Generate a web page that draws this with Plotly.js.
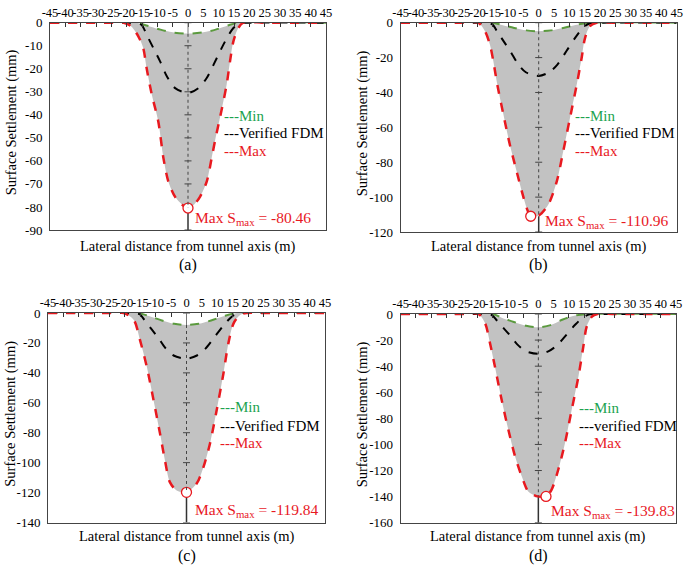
<!DOCTYPE html>
<html><head><meta charset="utf-8">
<script src="https://cdn.plot.ly/plotly-3.0.1.min.js"></script>
<style>html,body{margin:0;padding:0;background:#fff}#chart{width:685px;height:566px}</style>
</head><body><div id="chart"></div>
<script>
// ---------- data ----------
const xTickVals = [-45,-40,-35,-30,-25,-20,-15,-10,-5,0,5,10,15,20,25,30,35,40,45];
const panelLabels = ['(a)','(b)','(c)','(d)'];
const fdmLabels = ['---Verified FDM','---Verified FDM','---Verified FDM','---verified FDM'];
const yRanges = [[-90,0],[-120,0],[-140,0],[-160,0]];
const yTicksA = [0,-10,-20,-30,-40,-50,-60,-70,-80,-90];
const yTicksB = [0,-20,-40,-60,-80,-100,-120];
const yTicksC = [0,-20,-40,-60,-80,-100,-120,-140];
const yTicksD = [0,-20,-40,-60,-80,-100,-120,-140,-160];

// Verified FDM (same in every panel)
const fdmX = [-45,-20,-17,-15.1,-13.5,-11.3,-9.1,-6.9,-4.2,0,3.4,6.1,9.4,12.1,14.8,16.8,20,45];
const fdmY = [0,0,-0.2,-1.0,-5.2,-11,-16.8,-23.3,-28.4,-30.5,-28.4,-24,-15.3,-8.1,-2.3,-0.3,0,0];

// Max envelopes
const maxAX = [-45,-25,-21,-18.5,-16.2,-14.6,-13.5,-11.8,-9.7,-8.0,-6.4,-4.2,-2,0,2,3.9,6.1,7.7,9.0,10.4,12.6,13.7,14.8,16.4,18,25,45];
const maxAY = [0,0,0,-1.6,-5.9,-11,-19.7,-31.3,-42.8,-58.9,-69,-75.6,-78.9,-80.46,-78.9,-75.6,-69,-58.9,-50,-41.4,-26.9,-16.8,-8.1,-2.3,0,0,0];
const maxBX = [-45,-25,-19.7,-17.5,-15.9,-14.8,-13.5,-11.5,-9.4,-7.2,-5.5,-3.9,-2.6,0,3.1,5.9,8.0,10.2,12.4,14.0,15.1,16.7,18.9,25,45];
const maxBY = [0,0,0,-4.9,-12.6,-22,-35.5,-52.7,-70,-85.2,-96.7,-106.3,-110.96,-110.6,-104.4,-91,-73.7,-54.6,-35.5,-20.2,-8.8,-2,0,0,0];
const maxCX = [-45,-25,-20.4,-17.1,-15.1,-12.9,-10.7,-8.6,-7.0,-5.4,-3.2,0,3.3,5.5,7.6,9.8,12.0,13.6,15.3,17.4,19.5,25,45];
const maxCY = [0,0,0,-4.7,-18.1,-36,-58.3,-80.6,-98.5,-113,-118.6,-119.84,-114,-103,-87.5,-65,-40.4,-20.3,-6.9,-1.3,0,0,0];
const maxDX = [-45,-25,-19.6,-17.4,-15.8,-14.2,-12.0,-9.8,-7.6,-5.4,-3.3,-0.6,2.5,4.3,6.5,8.7,10.9,13.1,14.7,15.8,17.5,19.3,25,45];
const maxDY = [0,0,0,-7.1,-22.4,-40.3,-65.8,-88.8,-109.3,-124.6,-136,-139.6,-139.83,-134.8,-119.4,-99,-73.5,-48,-25,-9.7,-2,0,0,0];

// Min envelopes
const minAX = [-45,-17,-13.5,-9,-5,0,5,9,13,16.5,45];
const minAY = [0,0,-1.2,-3.0,-4.2,-4.8,-4.2,-3.0,-1.2,0,0];
const minBX = [-45,-15.3,-12,-8,-4,0,4,8,12,17,45];
const minBY = [0,0,-1.3,-3.0,-4.4,-4.9,-4.4,-3.0,-1.3,0,0];
const minCX = [-45,-16,-12,-8,-4,0,4,8,12,16.4,45];
const minCY = [0,0,-2.2,-5.0,-7.2,-8,-7.2,-5.0,-2.2,0,0];
const minDX = [-45,-15,-12,-8,-4,0,4,8,12,16.5,45];
const minDY = [0,0,-2.8,-6.1,-9.0,-10.2,-8.5,-4.2,-1.2,0,0];

// Maximum settlement points
const smaxValues = [-80.46,-110.96,-119.84,-139.83];
const smaxX = [0,-2.6,0,2.5];

// ---------- layout helpers ----------
const W = 685, H = 566;
const px = v => v / W;
const py = v => 1 - v / H;
const FONT = '"Liberation Serif", "Times New Roman", Times, serif';
const RED = '#e8191f', GREEN_LINE = '#5b9a3e', GREEN_TXT = '#1ca34f', GRAY = '#c2c2c2';

// plot boxes in pixels [left, right, top, bottom]
const boxes = [[50,326,22.7,230],[400.7,676.7,22.7,232],[48,325,313,522.5],[400.7,676,314,522.7]];
const xTitleY = [246.7,246.7,536,536.5];
const labelY = [265,265,555.5,555.5];
const yTitleX = [11,362,11,362];
const legendLeft = [222,573.3,218.3,576.7];
const legendY = [[116,133,150.5],[115.7,133,150.7],[407.3,426,443.3],[408.3,426,443.3]];
const smaxLblPos = [[193,219],[543.3,221.3],[192.7,510],[549.3,511.7]];

const maxXs = [maxAX,maxBX,maxCX,maxDX], maxYs = [maxAY,maxBY,maxCY,maxDY];
const minXs = [minAX,minBX,minCX,minDX], minYs = [minAY,minBY,minCY,minDY];
const yTicks = [yTicksA,yTicksB,yTicksC,yTicksD];

const traces = [];
const layout = {
  width: W, height: H,
  margin: {l:0,r:0,t:0,b:0},
  paper_bgcolor: '#fff', plot_bgcolor: '#fff',
  showlegend: false,
  font: {family: FONT, color: '#000', size: 13},
  annotations: [], shapes: []
};

for (let i = 0; i < 4; i++) {
  const sfx = i === 0 ? '' : String(i+1);
  const xa = 'x' + sfx, ya = 'y' + sfx;
  const b = boxes[i];
  const xd = [px(b[0]), px(b[1])], yd = [py(b[3]), py(b[2])];
  layout['xaxis' + sfx] = {
    domain: xd, anchor: ya, range: [-45,45], side: 'top',
    tickmode: 'array', tickvals: xTickVals, ticktext: xTickVals.map(String),
    tickangle: 0, ticks: 'inside', ticklen: 4, tickcolor: '#333', tickwidth: 1,
    showline: true, mirror: true, linecolor: '#444', linewidth: 1,
    showgrid: false, zeroline: false,
    tickfont: {family: FONT, size: 12.5, color: '#000'}
  };
  layout['yaxis' + sfx] = {
    domain: yd, anchor: xa, range: yRanges[i],
    tickmode: 'array', tickvals: yTicks[i], ticktext: yTicks[i].map(String),
    ticks: '', showline: true, mirror: true, linecolor: '#444', linewidth: 1,
    showgrid: false, zeroline: false, ticklabelstandoff: 4,
    tickfont: {family: FONT, size: 13, color: '#000'}
  };

  // gray band between min and max envelope
  traces.push({x: minXs[i], y: minYs[i], xaxis: xa, yaxis: ya, mode: 'lines',
    line: {width: 0, shape: 'spline', smoothing: 0.8}, hoverinfo: 'skip'});
  traces.push({x: maxXs[i], y: maxYs[i], xaxis: xa, yaxis: ya, mode: 'lines', fill: 'tonexty',
    fillcolor: GRAY, line: {width: 0, shape: 'spline', smoothing: 0.8}, hoverinfo: 'skip'});

  // tick marks on the x=0 vertical axis
  traces.push({x: yTicks[i].map(() => 0), y: yTicks[i], xaxis: xa, yaxis: ya, mode: 'markers',
    marker: {symbol: 'line-ew-open', size: 5, color: '#444', line: {width: 1, color: '#444'}}, hoverinfo: 'skip'});

  // dashed lines
  traces.push({x: minXs[i], y: minYs[i], xaxis: xa, yaxis: ya, mode: 'lines',
    line: {color: GREEN_LINE, width: 2, dash: 'dash', shape: 'spline', smoothing: 0.8}});
  traces.push({x: fdmX, y: fdmY, xaxis: xa, yaxis: ya, mode: 'lines',
    line: {color: '#000', width: 2, dash: 'dash', shape: 'spline', smoothing: 0.8}});
  traces.push({x: maxXs[i], y: maxYs[i], xaxis: xa, yaxis: ya, mode: 'lines',
    line: {color: RED, width: 2.5, dash: 'dash', shape: 'spline', smoothing: 0.8}});

  // maximum settlement point
  traces.push({x: [smaxX[i]], y: [smaxValues[i]], xaxis: xa, yaxis: ya, mode: 'markers',
    marker: {symbol: 'circle', size: 10, color: '#fff', line: {color: RED, width: 1.3}}});

  // vertical axis line at x = 0
  const minC = Math.min(...minYs[i]);
  layout.shapes.push({type: 'line', xref: xa, yref: ya, x0: 0, x1: 0, y0: 0, y1: minC,
    line: {color: '#777', width: 1}, layer: 'above'});
  layout.shapes.push({type: 'line', xref: xa, yref: ya, x0: 0, x1: 0, y0: minC, y1: smaxValues[i],
    line: {color: '#444', width: 1, dash: 'dot'}, layer: 'above'});
  layout.shapes.push({type: 'line', xref: xa, yref: ya, x0: 0, x1: 0, y0: smaxValues[i], y1: yRanges[i][0],
    line: {color: '#333', width: 1.5}, layer: 'below'});

  // texts
  const ann = layout.annotations;
  ann.push({xref: 'paper', yref: 'paper', x: px((b[0]+b[1])/2), y: py(xTitleY[i]),
    text: 'Lateral distance from tunnel axis (m)', showarrow: false, xanchor: 'center', yanchor: 'middle',
    font: {family: FONT, size: 14.5, color: '#000'}});
  ann.push({xref: 'paper', yref: 'paper', x: px((b[0]+b[1])/2), y: py(labelY[i]),
    text: panelLabels[i], showarrow: false, xanchor: 'center', yanchor: 'middle',
    font: {family: FONT, size: 16, color: '#000'}});
  ann.push({xref: 'paper', yref: 'paper', x: px(yTitleX[i]), y: py((b[2]+b[3])/2 - 4),
    text: 'Surface Settlement (mm)', showarrow: false, textangle: -90, xanchor: 'center', yanchor: 'middle',
    font: {family: FONT, size: 14.5, color: '#000'}});
  const lg = legendY[i];
  ann.push({xref: 'paper', yref: 'paper', x: px(legendLeft[i]), y: py(lg[0]), text: '---Min',
    showarrow: false, xanchor: 'left', yanchor: 'middle', font: {family: FONT, size: 15, color: GREEN_TXT}});
  ann.push({xref: 'paper', yref: 'paper', x: px(legendLeft[i]), y: py(lg[1]), text: fdmLabels[i],
    showarrow: false, xanchor: 'left', yanchor: 'middle', font: {family: FONT, size: 15, color: '#000'}});
  ann.push({xref: 'paper', yref: 'paper', x: px(legendLeft[i]), y: py(lg[2]), text: '---Max',
    showarrow: false, xanchor: 'left', yanchor: 'middle', font: {family: FONT, size: 15, color: RED}});
  const sp = smaxLblPos[i];
  ann.push({xref: 'paper', yref: 'paper', x: px(sp[0]), y: py(sp[1]),
    text: 'Max S<sub>max</sub> = ' + smaxValues[i].toFixed(2),
    showarrow: false, xanchor: 'left', yanchor: 'middle', font: {family: FONT, size: 15.5, color: RED}});
}

Plotly.newPlot('chart', traces, layout, {staticPlot: true, displayModeBar: false});
</script>
</body></html>
